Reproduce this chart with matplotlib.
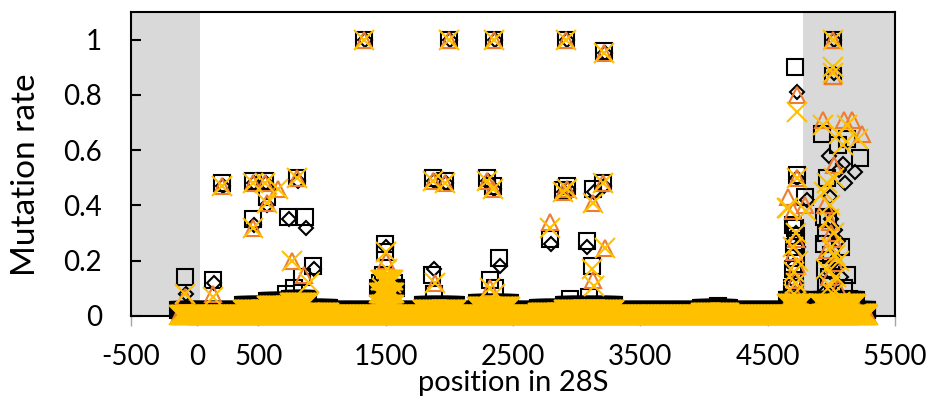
import matplotlib
import matplotlib.pyplot as plt
import numpy as np

matplotlib.use("Agg")

# background (near zero) rates, read as runs of positions: (start, end, rate)
sq_runs = [(-130, 380, 0.02), (380, 570, 0.038), (570, 750, 0.053), (750, 900, 0.063),
           (900, 1060, 0.028), (1060, 1430, 0.02), (1440, 1580, 0.1), (1590, 1790, 0.02),
           (1790, 2060, 0.038), (2060, 2220, 0.02), (2220, 2480, 0.048), (2480, 2700, 0.02),
           (2700, 2900, 0.028), (2900, 3300, 0.038), (3300, 3980, 0.02), (3980, 4200, 0.028),
           (4200, 4650, 0.02), (4650, 4780, 0.058), (4780, 4900, 0.023), (4900, 5200, 0.058),
           (5200, 5290, 0.023)]
dm_runs = [(-140, 5300, 0.0), (570, 900, 0.03), (1450, 1570, 0.05), (2220, 2480, 0.025),
           (4650, 4780, 0.03), (4900, 5200, 0.03)]
tr_runs = [(-125, 5290, 0.003), (570, 900, 0.03), (1450, 1570, 0.06), (1790, 2060, 0.02),
           (2220, 2480, 0.03), (2900, 3300, 0.02), (4650, 4780, 0.04), (4900, 5200, 0.04)]
xm_runs = [(-120, 5290, 0.003), (380, 570, 0.022), (570, 750, 0.037), (750, 900, 0.047),
           (900, 1060, 0.012), (1450, 1570, 0.04), (1450, 1570, 0.085), (1460, 1560, 0.13),
           (1790, 2060, 0.022), (2220, 2480, 0.032), (2700, 2900, 0.012), (2900, 3300, 0.022),
           (3980, 4200, 0.012), (4650, 4780, 0.042), (4780, 4900, 0.007), (4900, 5200, 0.042),
           (5200, 5290, 0.007)]

# positions that stand out from the background
sq_x = [1330, 1997, 2351, 2916, 3215, 5013, 5013, 4715,
        -76, 144, 215, 458, 552, 568, 458, 804, 733, 866, 930, 843,
        1495, 1495, 1480, 1455, 1565, 1872, 1966, 1864, 2296, 2343, 2390, 2320, 2791,
        2925, 2894, 3128, 3207, 3081, 3120, 720, 780, 1880, 2360, 2950, 3100, 4110,
        4730, 4790, 4715, 4927, 5052, 5123, 5225, 4966, 4974,
        4700, 4725, 4705, 4720, 4700, 4715, 4695, 4710,
        4940, 4960, 4945, 5000, 4950, 4985, 4955, 5010, 5080, 5120, 5100, 5140]
sq_y = [1.0, 1.0, 1.0, 1.0, 0.96, 1.0, 0.87, 0.90,
        0.14, 0.13, 0.48, 0.49, 0.49, 0.43, 0.35, 0.50, 0.36, 0.36, 0.18, 0.14,
        0.26, 0.23, 0.15, 0.12, 0.12, 0.50, 0.49, 0.15, 0.50, 0.47, 0.21, 0.13, 0.28,
        0.47, 0.455, 0.46, 0.48, 0.27, 0.18, 0.08, 0.10, 0.08, 0.10, 0.06, 0.07, 0.035,
        0.51, 0.43, 0.32, 0.66, 0.62, 0.64, 0.57, 0.50, 0.35,
        0.33, 0.29, 0.25, 0.21, 0.17, 0.13, 0.10, 0.07,
        0.36, 0.30, 0.26, 0.22, 0.17, 0.14, 0.11, 0.08, 0.25, 0.15, 0.10, 0.06]

dm_x = [1335, 2002, 2356, 2921, 3220, 5018, 5018, 4730,
        -70, 150, 220, 463, 557, 568, 463, 809, 740, 875, 935, 1500, 1500,
        1877, 1971, 1880, 2301, 2348, 2395, 2800, 2930, 2899, 3133, 3212, 3085,
        4730, 4810, 4985, 5060, 5090, 5190, 5110, 4990,
        4720, 4740, 4700, 4725, 4710,
        5000, 5050, 5020, 5080, 4960, 5030, 4990]
dm_y = [1.0, 1.0, 1.0, 1.0, 0.95, 1.0, 0.88, 0.81,
        0.08, 0.12, 0.47, 0.48, 0.48, 0.40, 0.33, 0.49, 0.35, 0.32, 0.17, 0.25, 0.13,
        0.49, 0.48, 0.17, 0.49, 0.46, 0.18, 0.26, 0.46, 0.45, 0.45, 0.47, 0.25,
        0.50, 0.42, 0.58, 0.53, 0.55, 0.52, 0.48, 0.43,
        0.30, 0.25, 0.18, 0.12, 0.08,
        0.35, 0.27, 0.20, 0.14, 0.09, 0.31, 0.16]

tr_x = [1330, 1997, 2351, 2916, 3215, 5013, 5013, 4730,
        -76, 144, 215, 458, 552, 654, 568, 458, 804, 764, 860, 1500, 1510,
        1872, 1966, 1887, 2296, 2343, 2320, 2790, 2925, 2894, 3128, 3207, 3130, 3223,
        4660, 4935, 5100, 5163, 5240, 5025, 4730, 4790, 4700, 4950, 5000,
        4720, 4710, 4730, 4715, 4705,
        4990, 5010, 4970, 5030, 4985, 5050]
tr_y = [1.0, 1.0, 1.0, 1.0, 0.95, 1.0, 0.87, 0.80,
        0.07, 0.08, 0.47, 0.48, 0.48, 0.46, 0.41, 0.32, 0.50, 0.20, 0.15, 0.20, 0.12,
        0.49, 0.48, 0.12, 0.49, 0.46, 0.10, 0.34, 0.46, 0.45, 0.41, 0.48, 0.13, 0.245,
        0.43, 0.71, 0.71, 0.71, 0.66, 0.545, 0.50, 0.40, 0.38, 0.40, 0.30,
        0.28, 0.23, 0.18, 0.13, 0.09,
        0.34, 0.28, 0.24, 0.19, 0.14, 0.10]

xm_x = [1330, 1997, 2351, 2916, 3215, 5013, 5013, 5013, 4730,
        -76, 144, 215, 458, 552, 654, 568, 458, 804, 764, 900, 1500, 1510, 1470, 1540,
        1872, 1966, 1887, 2296, 2343, 2320, 2360, 2790, 2925, 2894, 3128, 3207, 3120, 3140, 3223,
        4660, 4935, 5060, 5120, 5210, 5090, 5025, 4966, 4730, 4800, 4650, 4940, 4990,
        4720, 4700, 4740, 4710, 4725, 4705, 4715,
        4980, 5020, 5000, 5060, 4960, 5040, 4990, 5010, 5070, 5030]
xm_y = [1.0, 1.0, 1.0, 1.0, 0.95, 1.0, 0.88, 0.90, 0.74,
        0.08, 0.07, 0.47, 0.48, 0.48, 0.46, 0.41, 0.32, 0.50, 0.20, 0.12, 0.23, 0.17, 0.10, 0.12,
        0.49, 0.48, 0.12, 0.49, 0.46, 0.10, 0.08, 0.32, 0.46, 0.45, 0.41, 0.48, 0.17, 0.11, 0.245,
        0.39, 0.69, 0.66, 0.69, 0.64, 0.62, 0.50, 0.48, 0.50, 0.38, 0.39, 0.45, 0.40,
        0.30, 0.25, 0.20, 0.16, 0.12, 0.08, 0.05,
        0.35, 0.30, 0.25, 0.20, 0.17, 0.14, 0.11, 0.08, 0.05, 0.22]

x_ticks = [-500, 20, 500, 1500, 2500, 3500, 4500, 5500]
x_labels = ["-500", "0", "500", "1500", "2500", "3500", "4500", "5500"]
y_ticks = [0, 0.2, 0.4, 0.6, 0.8, 1.0]
y_labels = ["0", "0.2", "0.4", "0.6", "0.8", "1"]
shade_left = (-500, 40)
shade_right = (4775, 5500)

ORANGE = "#ED7D31"
GOLD = "#FFC000"


def background(runs):
    """Every position along the rRNA with its run's background rate."""
    pos, val = [], []
    for start, end, rate in runs:
        p = np.arange(start, end, 6)
        pos.append(p)
        val.append(np.full(len(p), rate))
    return np.concatenate(pos), np.concatenate(val)


plt.rcParams["font.family"] = ["Lato", "DejaVu Sans"]

fig = plt.figure(figsize=(9.31, 4.01), dpi=100)
ax = fig.add_axes([0.1407, 0.212, 0.8206, 0.758])

ax.axvspan(*shade_left, color="#D9D9D9", lw=0, zorder=0)
ax.axvspan(*shade_right, color="#D9D9D9", lw=0, zorder=0)

series = [
    (sq_runs, sq_x, sq_y, dict(marker="s", ms=11, mfc="none", mec="black", mew=1.5)),
    (dm_runs, dm_x, dm_y, dict(marker="D", ms=7.5, mfc="none", mec="black", mew=1.5)),
    (tr_runs, tr_x, tr_y, dict(marker="^", ms=11, mfc="none", mec=ORANGE, mew=1.5)),
    (xm_runs, xm_x, xm_y, dict(marker="x", ms=14.5, mec=GOLD, mew=1.5)),
]
for z, (runs, xs, ys, style) in enumerate(series):
    bx, by = background(runs)
    ax.plot(bx, by, ls="none", clip_on=False, zorder=3 + z, **style)
    ax.plot(xs, ys, ls="none", clip_on=False, zorder=3 + z, **style)

ax.set_xlim(-500, 5500)
ax.set_ylim(0, 1.1)
ax.set_xticks(x_ticks)
ax.set_xticklabels(x_labels)
ax.set_yticks(y_ticks)
ax.set_yticklabels(y_labels)

ax.tick_params(axis="y", direction="in", length=7, width=1.5, color="black",
               pad=21, labelsize=20)
ax.tick_params(axis="x", direction="out", length=7, width=1, color="#A6A6A6",
               pad=13, labelsize=20)
for side in ["left", "right", "top", "bottom"]:
    ax.spines[side].set_linewidth(1.5)
    ax.spines[side].set_color("black")

ax.set_xlabel("position in 28S", fontsize=21, labelpad=0)
ax.set_ylabel("Mutation rate", fontsize=24)
ax.yaxis.set_label_coords(-0.1175, 0.465)

fig.savefig("out.png", dpi=100)
